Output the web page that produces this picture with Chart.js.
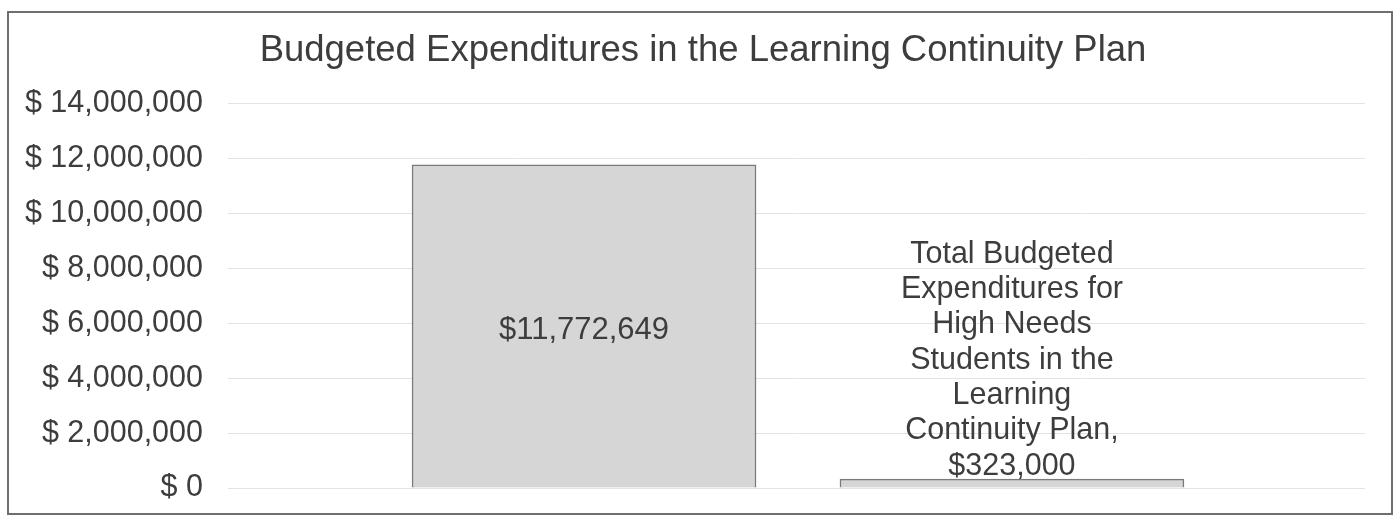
<!DOCTYPE html>
<html>
<head>
<meta charset="utf-8">
<script src="https://cdn.jsdelivr.net/npm/chart.js@4"></script>
<style>
  body { margin: 0; background: #fff; }
  #frame {
    position: absolute; left: 7px; top: 11px;
    width: 1386px; height: 504px;
    box-sizing: border-box; border: 2px solid #6e6e6e;
  }
  #myChart { display: block; }
</style>
</head>
<body>
<div id="frame"><canvas id="myChart" width="1382" height="500"></canvas></div>
<script>
const categories = [
  'Total Budgeted Expenditures in the Learning Continuity Plan',
  'Total Budgeted Expenditures for High Needs Students in the Learning Continuity Plan'
];
const amounts = [11772649, 323000];
const yTicks = [0, 2000000, 4000000, 6000000, 8000000, 10000000, 12000000, 14000000];
const highNeedsLines = ['Total Budgeted', 'Expenditures for', 'High Needs', 'Students in the', 'Learning', 'Continuity Plan,'];

const textColor = '#3d3d3d';
const fontFamily = '"Liberation Sans", Arial, sans-serif';

function money(v) {
  return '$' + v.toLocaleString('en-US');
}

// labels: first one centred in the bar, second one stacked above it
const barLabels = {
  id: 'barLabels',
  afterLayout(chart) {
    // title in the original sits a little right of the canvas centre
    if (chart.titleBlock) chart.titleBlock.left += 32;
  },
  afterDatasetsDraw(chart) {
    const ctx = chart.ctx;
    const bars = chart.getDatasetMeta(0).data;
    ctx.save();
    ctx.fillStyle = textColor;
    ctx.textAlign = 'center';
    ctx.textBaseline = 'middle';

    const b0 = bars[0];
    ctx.font = '31px ' + fontFamily;
    ctx.fillText(money(amounts[0]), b0.x, (b0.y + b0.base) / 2 + 4);

    const b1 = bars[1];
    ctx.font = '30.5px ' + fontFamily;
    const lines = highNeedsLines.concat([money(amounts[1])]);
    const lineH = 35.3;
    let y = b1.y - 13;
    for (let i = lines.length - 1; i >= 0; i--) {
      ctx.fillText(lines[i], b1.x, y);
      y -= lineH;
    }
    ctx.restore();
  }
};

const ctx = document.getElementById('myChart').getContext('2d');
new Chart(ctx, {
  type: 'bar',
  data: {
    datasets: [{
      label: 'Budgeted',
      data: amounts.map((v, i) => ({ x: i + 1, y: v })),
      backgroundColor: '#d6d6d6',
      borderColor: '#7a7a7a',
      borderWidth: 1.5,
      barThickness: 344
    }]
  },
  options: {
    responsive: false,
    animation: false,
    layout: { padding: { left: 0, right: 26, top: 0, bottom: 25 } },
    scales: {
      x: {
        type: 'linear',
        min: 0.168,
        max: 2.825,
        offset: false,
        display: false
      },
      y: {
        min: yTicks[0],
        max: yTicks[yTicks.length - 1],
        afterFit(scale) {
          scale.width = 219;
          scale.paddingTop = 0;
          scale.paddingBottom = 0;
        },
        afterBuildTicks(scale) { scale.ticks = yTicks.map(v => ({ value: v })); },
        border: { display: false },
        grid: { color: '#e3e3e3', lineWidth: 1, drawTicks: false },
        ticks: {
          padding: 25,
          color: textColor,
          font: { family: fontFamily, size: 30.5 },
          callback: v => '$ ' + v.toLocaleString('en-US')
        }
      }
    },
    plugins: {
      legend: { display: false },
      tooltip: { enabled: false },
      title: {
        display: true,
        text: 'Budgeted Expenditures in the Learning Continuity Plan',
        color: textColor,
        font: { family: fontFamily, size: 36.5, weight: 'normal' },
        padding: { top: 16, bottom: 31 }
      }
    }
  },
  plugins: [barLabels]
});
</script>
</body>
</html>
